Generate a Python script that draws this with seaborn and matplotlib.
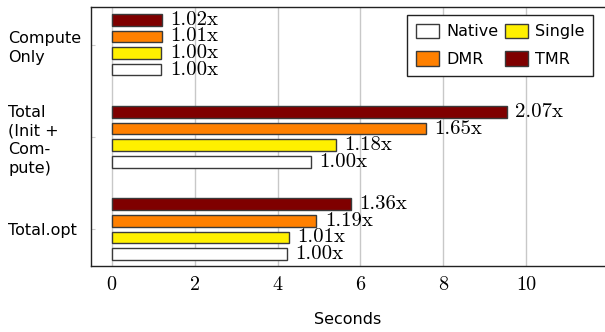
import pandas
import seaborn
import matplotlib.pyplot as plt

seaborn.set_style(style='ticks')
plt.rcParams['font.family'] = ['DejaVu Sans']
plt.rcParams['text.color'] = 'black'

groups = ['Compute\nOnly', 'Total\n(Init +\nCom-\npute)', 'Total.opt']
variants = ['TMR', 'DMR', 'Single', 'Native']
# seconds
native = [1.20, 4.80, 4.23]
single = [1.20, 5.40, 4.28]
dmr = [1.21, 7.58, 4.94]
tmr = [1.22, 9.53, 5.78]
# speedup labels printed next to bars
native_lbl = ['1.00x', '1.00x', '1.00x']
single_lbl = ['1.00x', '1.18x', '1.01x']
dmr_lbl = ['1.01x', '1.65x', '1.19x']
tmr_lbl = ['1.02x', '2.07x', '1.36x']

colors = {'TMR': '#7f0000', 'DMR': '#ff8000', 'Single': '#fff000', 'Native': '#ffffff'}

rows = []
for name, vals in [('TMR', tmr), ('DMR', dmr), ('Single', single), ('Native', native)]:
    for g, v in zip(groups, vals):
        rows.append({'group': g, 'variant': name, 'seconds': v})
df = pandas.DataFrame(rows)
labels = {'TMR': tmr_lbl, 'DMR': dmr_lbl, 'Single': single_lbl, 'Native': native_lbl}

fig = plt.figure(figsize=(6.05, 3.32), dpi=100)
ax = fig.add_axes([0.1504, 0.1988, 0.8496, 0.7801])
ax.set_axisbelow(True)
ax.grid(axis='x', color='#c8c8c8', linewidth=1.0)

seaborn.barplot(data=df, y='group', x='seconds', hue='variant', hue_order=variants,
                palette=colors, saturation=1, orient='h', width=0.72, gap=0.3, order=groups,
                edgecolor='#3a3a3a', linewidth=1.0, legend=False, ax=ax)

for cont, name in zip(ax.containers, variants):
    ax.bar_label(cont, labels=labels[name], padding=6, fontsize=15, family='cmr10',
                 color='black')

ax.set_xlim(-0.5, 11.9)
ax.set_ylim(2.4, -0.41)
ax.set_xticks([0, 2, 4, 6, 8, 10])
ax.set_ylabel('')
ax.set_xlabel('Seconds', fontsize=11.5, labelpad=13, color='black')
ax.spines['right'].set_visible(False)
for s in ['left', 'bottom', 'top']:
    ax.spines[s].set_color('#222222')
    ax.spines[s].set_linewidth(1.0)
ax.tick_params(axis='x', length=0, labelsize=14.5, pad=7, labelcolor='black')
ax.tick_params(axis='y', direction='in', length=3, color='#cccccc', pad=59.5,
               labelcolor='black')
for t in ax.get_xticklabels():
    t.set_family('cmr10')
for t in ax.get_yticklabels():
    t.set_horizontalalignment('left')
    t.set_fontsize(11.5)
    t.set_linespacing(1.3)

handle = {name: cont for cont, name in zip(ax.containers, variants)}
order = ['Native', 'DMR', 'Single', 'TMR']
leg = ax.legend([handle[n] for n in order], order, ncol=2, loc='upper right',
                bbox_to_anchor=(0.977, 0.969), borderaxespad=0, fancybox=False,
                framealpha=1, edgecolor='#222222', fontsize=11.5,
                handlelength=1.45, handleheight=1.0, columnspacing=0.4, handletextpad=0.45,
                labelspacing=0.75, borderpad=0.55)
leg.get_frame().set_linewidth(1.0)

plt.savefig('out.png', dpi=100)
